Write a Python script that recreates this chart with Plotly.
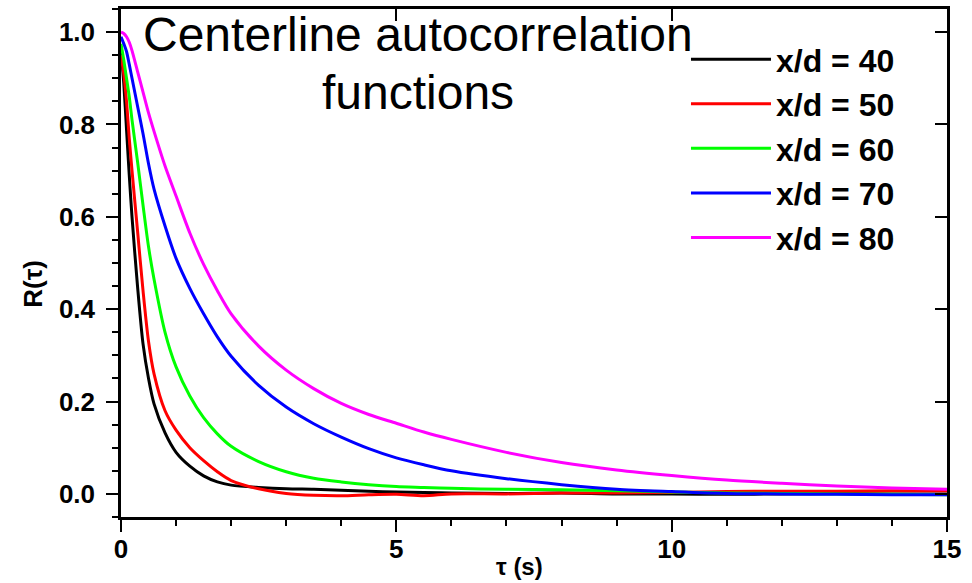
import plotly.graph_objects as go

tau = [0, 0.05, 0.1, 0.15, 0.2, 0.3, 0.4, 0.5, 0.6, 0.8, 1.0, 1.25, 1.5, 1.75, 2.0,
       2.5, 3.0, 3.5, 4.0, 4.5, 5, 5.5, 6, 7, 8, 9, 10, 11, 12, 13, 14, 15]

r40 = [0.96, 0.89, 0.79, 0.69, 0.60, 0.45, 0.325, 0.25, 0.195, 0.132, 0.09, 0.06, 0.039, 0.026, 0.019,
       0.014, 0.011, 0.010, 0.008, 0.006, 0.004, 0.003, 0.002, 0.001, 0.002, 0.000, 0.000, -0.001, 0.000, 0.001, 0.000, 0.000]
r50 = [0.95, 0.91, 0.85, 0.77, 0.70, 0.57, 0.44, 0.33, 0.26, 0.18, 0.138, 0.10, 0.072, 0.048, 0.029,
       0.011, 0.001, -0.003, -0.004, -0.002, -0.001, -0.004, 0.000, 0.000, 0.002, 0.002, 0.003, 0.005, 0.006, 0.006, 0.007, 0.007]
r60 = [0.975, 0.94, 0.90, 0.86, 0.81, 0.72, 0.625, 0.535, 0.465, 0.35, 0.275, 0.212, 0.165, 0.13, 0.103,
       0.07, 0.048, 0.034, 0.026, 0.020, 0.016, 0.014, 0.012, 0.010, 0.009, 0.007, 0.004, 0.002, 0.001, 0.000, -0.001, -0.002]
r70 = [0.99, 0.975, 0.958, 0.93, 0.90, 0.84, 0.78, 0.715, 0.66, 0.58, 0.51, 0.445, 0.39, 0.34, 0.298,
       0.235, 0.188, 0.152, 0.123, 0.098, 0.078, 0.063, 0.050, 0.033, 0.020, 0.010, 0.005, 0.001, 0.000, -0.001, -0.002, -0.002]
r80 = [1.0, 0.997, 0.99, 0.978, 0.96, 0.915, 0.87, 0.825, 0.785, 0.71, 0.645, 0.565, 0.497, 0.44, 0.39,
       0.32, 0.268, 0.228, 0.196, 0.172, 0.153, 0.134, 0.118, 0.090, 0.068, 0.052, 0.040, 0.030, 0.023, 0.017, 0.013, 0.010]

series = [("x/d = 40", r40, "#000000"),
          ("x/d = 50", r50, "#ff0000"),
          ("x/d = 60", r60, "#00ff00"),
          ("x/d = 70", r70, "#0000ff"),
          ("x/d = 80", r80, "#ff00ff")]

FONT = "Arial, Liberation Sans, sans-serif"

fig = go.Figure()
for name, vals, col in series:
    fig.add_trace(go.Scatter(x=tau, y=vals, mode="lines", name=name,
                             line=dict(color=col, width=3, shape="spline", smoothing=0.8)))

# dummy trace to create the mirror (top/right) axes
fig.add_trace(go.Scatter(x=[None], y=[None], xaxis="x2", yaxis="y2",
                         showlegend=False, hoverinfo="skip"))

fig.update_layout(
    width=972, height=583,
    margin=dict(l=121, r=25, t=9, b=66),
    paper_bgcolor="white", plot_bgcolor="white",
    font=dict(family=FONT, color="black"),
    showlegend=True,
    legend=dict(x=0.684, y=0.955, xanchor="left", yanchor="top",
                bgcolor="rgba(0,0,0,0)", borderwidth=0,
                font=dict(family=FONT, size=32, weight="bold", color="black"),
                itemwidth=80, tracegroupgap=0),
    xaxis=dict(range=[0, 15], showgrid=False, zeroline=False,
               showline=True, linecolor="black", linewidth=2.5,
               ticks="outside", ticklen=12, tickwidth=2, tickcolor="black",
               tickvals=[0, 5, 10, 15], ticktext=["0", "5", "10", "15"],
               minor=dict(dtick=1, ticks="outside", ticklen=6, tickwidth=2, tickcolor="black", showgrid=False),
               tickfont=dict(family=FONT, size=26, weight="bold", color="black"),
               ticklabelstandoff=-5),
    yaxis=dict(range=[-0.05, 1.05], showgrid=False, zeroline=False,
               showline=True, linecolor="black", linewidth=2.5,
               ticks="outside", ticklen=12, tickwidth=2, tickcolor="black",
               tickvals=[0, 0.2, 0.4, 0.6, 0.8, 1.0],
               ticktext=["0.0", "0.2", "0.4", "0.6", "0.8", "1.0"],
               minor=dict(dtick=0.05, tick0=0, ticks="outside", ticklen=6, tickwidth=2, tickcolor="black", showgrid=False),
               tickfont=dict(family=FONT, size=26, weight="bold", color="black"),
               ticklabelstandoff=6),
    xaxis2=dict(range=[0, 15], overlaying="x", side="top", anchor="y2",
                showgrid=False, zeroline=False, showline=True, linecolor="black", linewidth=2.5,
                ticks="inside", ticklen=12, tickwidth=2, tickcolor="black",
                tickvals=[0, 5, 10, 15], showticklabels=False),
    yaxis2=dict(range=[-0.05, 1.05], overlaying="y", side="right", anchor="x2",
                showgrid=False, zeroline=False, showline=True, linecolor="black", linewidth=2.5,
                ticks="inside", ticklen=12, tickwidth=2, tickcolor="black",
                tickvals=[0, 0.2, 0.4, 0.6, 0.8, 1.0], showticklabels=False),
    annotations=[
        dict(text="Centerline autocorrelation", xref="paper", yref="paper",
             x=0.359, y=1.006, xanchor="center", yanchor="top", showarrow=False,
             font=dict(family=FONT, size=48, color="black")),
        dict(text="functions", xref="paper", yref="paper",
             x=0.359, y=0.891, xanchor="center", yanchor="top", showarrow=False,
             font=dict(family=FONT, size=48, color="black")),
        dict(text="R(τ)", xref="paper", yref="paper", x=-0.106, y=0.46,
             xanchor="center", yanchor="middle", textangle=-90, showarrow=False,
             font=dict(family=FONT, size=26, weight="bold", color="black")),
        dict(text="τ (s)", xref="paper", yref="paper", x=0.483, y=-0.128,
             xanchor="center", yanchor="bottom", showarrow=False,
             font=dict(family=FONT, size=24, weight="bold", color="black")),
    ],
)

fig.write_html("out.html")
